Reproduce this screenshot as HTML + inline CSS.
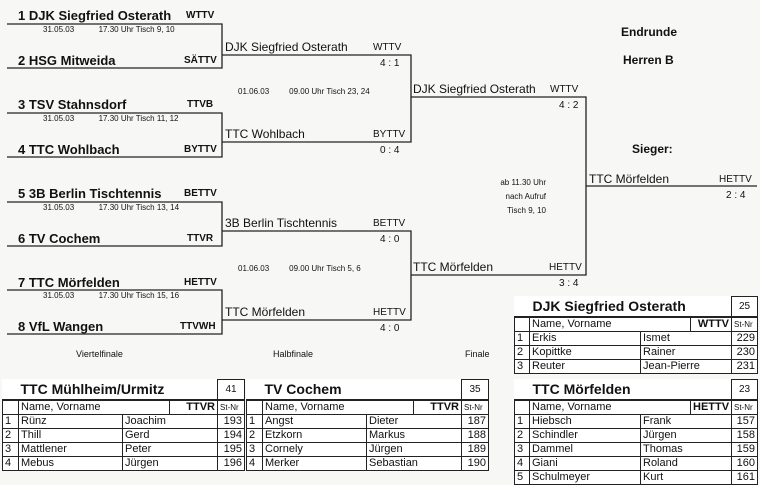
<!DOCTYPE html>
<html><head><meta charset="utf-8"><style>
body{margin:0;width:760px;height:484px;background:#f7f7f5;position:relative;overflow:hidden;font-family:"Liberation Sans",sans-serif;color:#111}
.t{position:absolute;white-space:nowrap;line-height:1}
.b{font-weight:bold}
svg{position:absolute;left:0;top:0}
table{position:absolute;border-collapse:collapse;font-size:11px;background:#fff;table-layout:fixed}
td{border:1px solid #222;padding:0 2px;height:13px;line-height:13px;overflow:hidden;white-space:nowrap}
td.n{text-align:right}
.h td{border:none;font-weight:bold;font-size:14px;height:19px}
tr.h2 td{border-top:2px solid #222}
</style></head><body>
<svg width="760" height="484" fill="none" stroke="#222" stroke-width="1.3">
<path d="M7 24H222V68H7M7 113H222V157H7M7 202H222V246H7M7 290H222V334H7"/>
<path d="M222 55H411V142H222M222 231H411V320H222"/>
<path d="M411 97H586V275H411M586 186H757"/>
</svg>
<div class="t b" style="left:18px;top:9px;font-size:13px">1 DJK Siegfried Osterath</div><div class="t b" style="left:186px;top:11px;font-size:10px">WTTV</div>
<div class="t" style="left:43px;top:26px;font-size:8px">31.05.03 &nbsp; &nbsp; &nbsp; &nbsp; &nbsp; 17.30 Uhr Tisch 9, 10</div>
<div class="t b" style="left:18px;top:54px;font-size:13px">2 HSG Mitweida</div><div class="t b" style="left:184px;top:56px;font-size:10px">SÄTTV</div>
<div class="t b" style="left:18px;top:98px;font-size:13px">3 TSV Stahnsdorf</div><div class="t b" style="left:187px;top:100px;font-size:10px">TTVB</div>
<div class="t" style="left:43px;top:115px;font-size:8px">31.05.03 &nbsp; &nbsp; &nbsp; &nbsp; &nbsp; 17.30 Uhr Tisch 11, 12</div>
<div class="t b" style="left:18px;top:143px;font-size:13px">4 TTC Wohlbach</div><div class="t b" style="left:184px;top:145px;font-size:10px">BYTTV</div>
<div class="t b" style="left:18px;top:187px;font-size:13px">5 3B Berlin Tischtennis</div><div class="t b" style="left:184px;top:189px;font-size:10px">BETTV</div>
<div class="t" style="left:43px;top:204px;font-size:8px">31.05.03 &nbsp; &nbsp; &nbsp; &nbsp; &nbsp; 17.30 Uhr Tisch 13, 14</div>
<div class="t b" style="left:18px;top:232px;font-size:13px">6 TV Cochem</div><div class="t b" style="left:187px;top:234px;font-size:10px">TTVR</div>
<div class="t b" style="left:18px;top:276px;font-size:13px">7 TTC Mörfelden</div><div class="t b" style="left:184px;top:278px;font-size:10px">HETTV</div>
<div class="t" style="left:43px;top:292px;font-size:8px">31.05.03 &nbsp; &nbsp; &nbsp; &nbsp; &nbsp; 17.30 Uhr Tisch 15, 16</div>
<div class="t b" style="left:18px;top:320px;font-size:13px">8 VfL Wangen</div><div class="t b" style="left:180px;top:322px;font-size:10px">TTVWH</div>

<div class="t" style="left:225px;top:41px;font-size:12px">DJK Siegfried Osterath</div><div class="t" style="left:373px;top:43px;font-size:10px">WTTV</div><div class="t" style="left:380px;top:59px;font-size:10px">4 : 1</div>
<div class="t" style="left:238px;top:88px;font-size:8px">01.06.03 &nbsp; &nbsp; &nbsp; &nbsp; 09.00 Uhr Tisch 23, 24</div>
<div class="t" style="left:225px;top:128px;font-size:12px">TTC Wohlbach</div><div class="t" style="left:373px;top:130px;font-size:10px">BYTTV</div><div class="t" style="left:380px;top:146px;font-size:10px">0 : 4</div>
<div class="t" style="left:225px;top:217px;font-size:12px">3B Berlin Tischtennis</div><div class="t" style="left:373px;top:219px;font-size:10px">BETTV</div><div class="t" style="left:380px;top:235px;font-size:10px">4 : 0</div>
<div class="t" style="left:238px;top:265px;font-size:8px">01.06.03 &nbsp; &nbsp; &nbsp; &nbsp; 09.00 Uhr Tisch 5, 6</div>
<div class="t" style="left:225px;top:306px;font-size:12px">TTC Mörfelden</div><div class="t" style="left:373px;top:308px;font-size:10px">HETTV</div><div class="t" style="left:380px;top:324px;font-size:10px">4 : 0</div>

<div class="t" style="left:413px;top:83px;font-size:12px">DJK Siegfried Osterath</div><div class="t" style="left:550px;top:85px;font-size:10px">WTTV</div><div class="t" style="left:559px;top:101px;font-size:10px">4 : 2</div>
<div class="t" style="left:413px;top:261px;font-size:12px">TTC Mörfelden</div><div class="t" style="left:549px;top:263px;font-size:10px">HETTV</div><div class="t" style="left:559px;top:279px;font-size:10px">3 : 4</div>
<div class="t" style="left:500px;top:176px;font-size:8px;text-align:right;width:46px;line-height:14px">ab 11.30 Uhr<br>nach Aufruf<br>Tisch 9, 10</div>

<div class="t" style="left:589px;top:173px;font-size:12px">TTC Mörfelden</div><div class="t" style="left:719px;top:175px;font-size:10px">HETTV</div><div class="t" style="left:726px;top:191px;font-size:10px">2 : 4</div>
<div class="t b" style="left:621px;top:26px;font-size:12px">Endrunde</div>
<div class="t b" style="left:623px;top:54px;font-size:12px">Herren B</div>
<div class="t b" style="left:632px;top:143px;font-size:12px">Sieger:</div>
<div class="t" style="left:76px;top:350px;font-size:9px">Viertelfinale</div>
<div class="t" style="left:273px;top:350px;font-size:9px">Halbfinale</div>
<div class="t" style="left:465px;top:350px;font-size:9px">Finale</div>

<table style="left:2px;top:379px;width:242px">
<colgroup><col style="width:16px"><col style="width:104px"><col style="width:47px"><col style="width:48px"><col style="width:27px"></colgroup>
<tr class="h"><td colspan="4" style="padding-left:18px">TTC Mühlheim/Urmitz</td><td style="border:1px solid #222;font-size:10px;font-weight:normal;text-align:center">41</td></tr>
<tr class="h2"><td></td><td colspan="2">Name, Vorname</td><td class="n"><b>TTVR</b></td><td style="font-size:8px">St-Nr</td></tr>
<tr><td>1</td><td>Rünz</td><td colspan="2">Joachim</td><td class="n">193</td></tr>
<tr><td>2</td><td>Thill</td><td colspan="2">Gerd</td><td class="n">194</td></tr>
<tr><td>3</td><td>Mattlener</td><td colspan="2">Peter</td><td class="n">195</td></tr>
<tr><td>4</td><td>Mebus</td><td colspan="2">Jürgen</td><td class="n">196</td></tr>
</table>
<table style="left:246px;top:379px;width:242px">
<colgroup><col style="width:16px"><col style="width:104px"><col style="width:47px"><col style="width:48px"><col style="width:27px"></colgroup>
<tr class="h"><td colspan="4" style="padding-left:18px">TV Cochem</td><td style="border:1px solid #222;font-size:10px;font-weight:normal;text-align:center">35</td></tr>
<tr class="h2"><td></td><td colspan="2">Name, Vorname</td><td class="n"><b>TTVR</b></td><td style="font-size:8px">St-Nr</td></tr>
<tr><td>1</td><td>Angst</td><td colspan="2">Dieter</td><td class="n">187</td></tr>
<tr><td>2</td><td>Etzkorn</td><td colspan="2">Markus</td><td class="n">188</td></tr>
<tr><td>3</td><td>Cornely</td><td colspan="2">Jürgen</td><td class="n">189</td></tr>
<tr><td>4</td><td>Merker</td><td colspan="2">Sebastian</td><td class="n">190</td></tr>
</table>
<table style="left:514px;top:296px;width:243px">
<colgroup><col style="width:15px"><col style="width:111px"><col style="width:50px"><col style="width:41px"><col style="width:26px"></colgroup>
<tr class="h"><td colspan="4" style="padding-left:18px">DJK Siegfried Osterath</td><td style="border:1px solid #222;font-size:10px;font-weight:normal;text-align:center">25</td></tr>
<tr class="h2"><td></td><td colspan="2">Name, Vorname</td><td class="n"><b>WTTV</b></td><td style="font-size:8px">St-Nr</td></tr>
<tr><td>1</td><td>Erkis</td><td colspan="2">Ismet</td><td class="n">229</td></tr>
<tr><td>2</td><td>Kopittke</td><td colspan="2">Rainer</td><td class="n">230</td></tr>
<tr><td>3</td><td>Reuter</td><td colspan="2">Jean-Pierre</td><td class="n">231</td></tr>
</table>
<table style="left:514px;top:379px;width:243px">
<colgroup><col style="width:15px"><col style="width:111px"><col style="width:50px"><col style="width:41px"><col style="width:26px"></colgroup>
<tr class="h"><td colspan="4" style="padding-left:18px">TTC Mörfelden</td><td style="border:1px solid #222;font-size:10px;font-weight:normal;text-align:center">23</td></tr>
<tr class="h2"><td></td><td colspan="2">Name, Vorname</td><td class="n"><b>HETTV</b></td><td style="font-size:8px">St-Nr</td></tr>
<tr><td>1</td><td>Hiebsch</td><td colspan="2">Frank</td><td class="n">157</td></tr>
<tr><td>2</td><td>Schindler</td><td colspan="2">Jürgen</td><td class="n">158</td></tr>
<tr><td>3</td><td>Dammel</td><td colspan="2">Thomas</td><td class="n">159</td></tr>
<tr><td>4</td><td>Giani</td><td colspan="2">Roland</td><td class="n">160</td></tr>
<tr><td>5</td><td>Schulmeyer</td><td colspan="2">Kurt</td><td class="n">161</td></tr>
</table>
</body></html>
